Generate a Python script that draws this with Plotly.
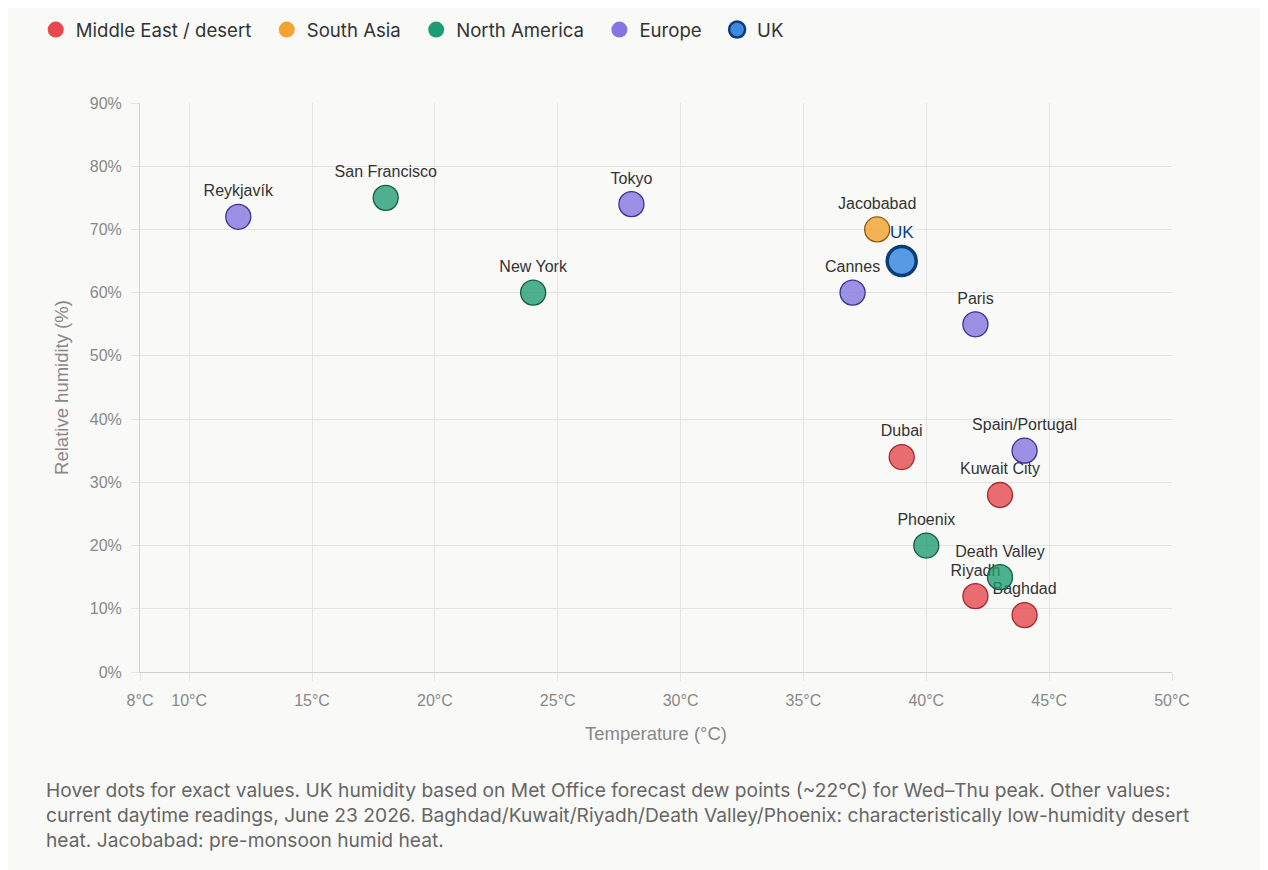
import plotly.graph_objects as go

# region groups, one list per series
groups = ["Middle East / desert", "South Asia", "North America", "Europe", "UK"]

me_cities = ["Dubai", "Kuwait City", "Riyadh", "Baghdad"]
me_temp = [39, 43, 42, 44]
me_hum = [34, 28, 12, 9]

sa_cities = ["Jacobabad"]
sa_temp = [38]
sa_hum = [70]

na_cities = ["San Francisco", "New York", "Phoenix", "Death Valley"]
na_temp = [18, 24, 40, 43]
na_hum = [75, 60, 20, 15]

eu_cities = ["Reykjavík", "Tokyo", "Cannes", "Paris", "Spain/Portugal"]
eu_temp = [12, 28, 37, 42, 44]
eu_hum = [72, 74, 60, 55, 35]

uk_cities = ["UK"]
uk_temp = [39]
uk_hum = [65]

x_ticks = [8, 10, 15, 20, 25, 30, 35, 40, 45, 50]
x_ticktext = [f"{t}°C" for t in x_ticks]

FONT = "Liberation Sans, Arial, sans-serif"
UI_FONT = "Inter, Roboto, sans-serif"

# page body adds an 8px margin, so the figure is a little smaller
W, H = 1260, 862

styles = {
    "Middle East / desert": ("#e5484d", "rgba(229,72,77,0.8)", "#a12a2e"),
    "South Asia": ("#f2a330", "rgba(242,163,48,0.82)", "#8c5a12"),
    "North America": ("#1e9b72", "rgba(30,155,114,0.78)", "#155c44"),
    "Europe": ("#8476e0", "rgba(132,118,224,0.8)", "#3b2f92"),
    "UK": ("#3d8ae0", "rgba(61,138,224,0.85)", "#0b3d78"),
}

series = [
    ("Middle East / desert", me_cities, me_temp, me_hum),
    ("South Asia", sa_cities, sa_temp, sa_hum),
    ("North America", na_cities, na_temp, na_hum),
    ("Europe", eu_cities, eu_temp, eu_hum),
    ("UK", uk_cities, uk_temp, uk_hum),
]

fig = go.Figure()

for name, cities, temps, hums in series:
    solid, fill, edge = styles[name]
    is_uk = name == "UK"
    fig.add_trace(go.Scatter(
        x=temps, y=hums, text=cities, name=name,
        mode="markers+text", textposition="top center",
        textfont=dict(family=FONT, size=17 if is_uk else 16,
                      color="#0b3d78" if is_uk else "#333333"),
        marker=dict(size=29 if is_uk else 25, color=fill,
                    line=dict(color=edge, width=3.5 if is_uk else 1.3)),
        showlegend=False,
        hovertemplate="%{text}: %{x}°C, %{y}%<extra></extra>",
    ))

# legend-only entries (padding keeps the gaps between items)
pad = "\u00a0" * 2
for name in groups:
    solid, fill, edge = styles[name]
    is_uk = name == "UK"
    fig.add_trace(go.Scatter(
        x=[None], y=[None], mode="markers", name=name + ("" if is_uk else pad),
        marker=dict(size=18, color=solid,
                    line=dict(color="#0b3d78" if is_uk else solid,
                              width=2.5 if is_uk else 0)),
    ))

fig.add_annotation(
    text=("Hover dots for exact values. UK humidity based on Met Office forecast dew points (~22°C) for Wed–Thu peak. Other values:<br>"
          "current daytime readings, June 23 2026. Baghdad/Kuwait/Riyadh/Death Valley/Phoenix: characteristically low-humidity desert<br>"
          "heat. Jacobabad: pre-monsoon humid heat."),
    xref="paper", yref="paper", x=-96 / 1032, y=-104 / 569,
    xanchor="left", yanchor="top", align="left", showarrow=False,
    font=dict(family=UI_FONT, size=19.2, color="#666666"),
)

fig.update_layout(
    width=W, height=H,
    paper_bgcolor="#f9f9f7", plot_bgcolor="#f9f9f7",
    margin=dict(l=132, r=96, t=95, b=198),
    font=dict(family=FONT, color="#888888"),
    legend=dict(orientation="h", xref="container", yref="container",
                x=0.022, y=1 - 22 / H, xanchor="left", yanchor="middle",
                font=dict(family=UI_FONT, size=18.6, color="#333333"),
                traceorder="normal", itemwidth=30),
    xaxis=dict(
        range=[8, 50], tickvals=x_ticks, ticktext=x_ticktext,
        showgrid=True, gridcolor="#e4e4e4", zeroline=False,
        showline=True, linecolor="#d0d0d0", linewidth=1,
        ticks="outside", ticklen=8, tickcolor="#e4e4e4", ticklabelstandoff=6,
        tickfont=dict(size=16, color="#888888"),
        title=dict(text="Temperature (°C)", font=dict(size=18.5, color="#888888"), standoff=18),
    ),
    yaxis=dict(
        range=[0, 90], dtick=10, ticksuffix="%",
        showgrid=True, gridcolor="#e4e4e4", zeroline=False,
        showline=True, linecolor="#d0d0d0", linewidth=1,
        ticks="outside", ticklen=8, tickcolor="#e4e4e4", ticklabelstandoff=6,
        tickfont=dict(size=16, color="#888888"),
        title=dict(text="Relative humidity (%)", font=dict(size=18.5, color="#888888"), standoff=16),
    ),
)

fig.write_html("out.html")
